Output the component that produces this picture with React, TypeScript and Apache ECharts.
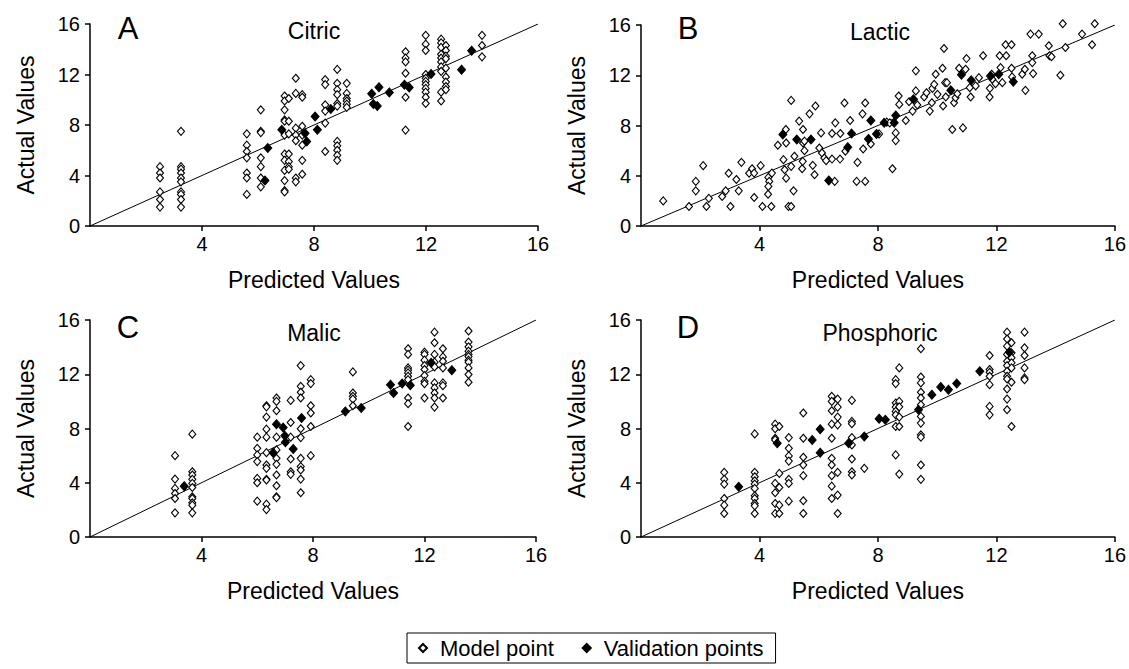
import React, { useEffect, useRef } from "react";
import * as echarts from "echarts";

// ---- Data ----
// Model points are grouped by predicted value (x) with the actual values (y) of each column.
const citricModel: [number, number[]][] = [
  [2.5, [4.7, 4.2, 3.8, 2.7, 2.1, 1.5]],
  [3.25, [7.5, 4.7, 4.5, 4.2, 3.8, 3.5, 2.7, 2.5, 2.1, 1.5]],
  [5.6, [7.3, 6.4, 5.9, 5.4, 4.2, 3.8, 2.5]],
  [6.1, [9.2, 7.5, 7.4, 5.4, 4.7, 3.8, 3.1]],
  [6.95, [10.3, 9.9, 9.2, 8.4, 8.3, 7.2, 5.7, 5.2, 4.4, 3.6, 2.8, 2.7]],
  [7.1, [10.1, 8.3, 7.3, 5.7, 5.1, 4.7, 4.5]],
  [7.35, [11.7, 10.5, 7.75, 7.2, 6.75, 3.8, 3.5]],
  [7.58, [10.4, 10.2, 7.9, 7.2, 6.4, 5.2, 4.1]],
  [8.4, [11.6, 11.2, 9.6, 9.1, 8.15, 5.9]],
  [8.83, [12.4, 11.3, 10.8, 10.4, 9.7, 9.5, 6.7, 6.35, 6.0, 5.6, 5.2]],
  [9.17, [11.3, 10.5, 10.1, 9.9, 9.65, 9.4]],
  [11.27, [13.8, 13.3, 13.0, 12.1, 10.2, 7.6]],
  [11.99, [15.1, 14.4, 13.9, 12.0, 11.7, 11.45, 11.2, 10.9, 10.6, 10.2, 9.7]],
  [12.54, [14.8, 14.5, 14.15, 13.6, 13.3, 13.0, 12.6, 12.25, 10.6, 9.9]],
  [12.71, [14.3, 13.9, 13.45, 13.25, 12.5, 11.8, 11.4, 11.05, 10.8]],
  [14.0, [15.1, 14.3, 13.4]],
];
const citricValid: [number, number][] = [
  [6.35, 6.17], [6.25, 3.6], [6.85, 7.62], [7.68, 7.35], [7.74, 6.69], [8.04, 8.67],
  [8.12, 7.62], [8.6, 9.26], [10.06, 10.48], [10.32, 11.0], [10.12, 9.66], [10.26, 9.5],
  [10.69, 10.58], [11.23, 11.19], [11.4, 10.98], [12.18, 12.04], [13.27, 12.38], [13.63, 13.89],
];

const lacticModel: [number, number][] = [
  [0.75, 2.0], [1.62, 1.55], [1.85, 2.8], [1.85, 3.55], [2.1, 4.8], [2.21, 1.55], [2.29, 2.2],
  [2.74, 2.35], [2.86, 2.8], [2.96, 4.2], [3.02, 1.55], [3.22, 3.7], [3.3, 2.8], [3.39, 5.07],
  [3.65, 4.2], [3.75, 4.56], [3.82, 2.27], [3.82, 4.21], [4.04, 4.8], [4.1, 1.55], [4.29, 2.53],
  [4.3, 3.87], [4.33, 3.55], [4.3, 3.15], [4.4, 1.55], [4.42, 4.21], [4.62, 6.43], [4.81, 5.28],
  [4.85, 4.48], [4.9, 6.61], [4.89, 7.68], [4.98, 1.55], [5.07, 1.55], [5.07, 10.0], [4.9, 3.81],
  [5.07, 4.75], [5.15, 2.8], [5.18, 5.55], [5.34, 8.35], [5.44, 4.56], [5.47, 7.68], [5.47, 6.61],
  [5.52, 6.75], [5.52, 6.0], [5.69, 8.93], [5.89, 9.55], [5.46, 5.15], [5.8, 4.83], [5.86, 4.08],
  [6.02, 6.21], [6.08, 7.41], [6.11, 5.81], [6.19, 5.41], [6.25, 5.2], [6.54, 3.55], [6.45, 5.33],
  [6.56, 8.21], [6.45, 7.36], [6.73, 7.36], [6.72, 5.33], [6.87, 9.79], [6.9, 5.95], [7.06, 8.4],
  [7.28, 3.55], [7.31, 5.07], [7.48, 8.93], [7.57, 9.79], [7.5, 6.13], [7.57, 3.55], [7.76, 6.53],
  [8.04, 7.33], [8.3, 8.27], [8.4, 8.21], [8.49, 4.56], [8.6, 7.41], [8.6, 6.8], [8.7, 10.35],
  [8.72, 9.68], [8.94, 8.4], [9.05, 9.89], [9.28, 12.35], [9.28, 10.75], [9.17, 9.15], [9.33, 9.63],
  [9.56, 10.27], [9.64, 10.61], [9.75, 9.15], [9.82, 9.81], [9.84, 10.96], [9.9, 11.28], [9.95, 12.08],
  [10.01, 10.48], [10.18, 12.56], [10.23, 14.13], [10.27, 11.41], [10.33, 11.41], [10.2, 9.55],
  [10.29, 10.27], [10.51, 7.68], [10.57, 9.81], [10.62, 10.21], [10.68, 10.53], [10.74, 12.56],
  [10.87, 7.81], [10.99, 13.33], [10.96, 12.48], [11.1, 11.01], [11.13, 10.27], [11.3, 11.15],
  [11.41, 11.81], [11.55, 13.55], [11.78, 10.96], [11.77, 10.27], [11.84, 12.08], [11.86, 11.68],
  [11.97, 11.33], [12.11, 13.55], [12.14, 12.61], [12.2, 11.41], [12.31, 14.43], [12.33, 13.55],
  [12.51, 14.43], [12.51, 12.56], [12.53, 11.87], [12.87, 12.08], [12.96, 12.48], [12.98, 10.8],
  [13.21, 13.55], [13.21, 13.01], [13.24, 12.13], [13.15, 15.28], [13.43, 15.28], [13.77, 14.35],
  [13.79, 13.55], [13.86, 13.47], [14.16, 12.0], [14.24, 16.1], [14.33, 14.21], [14.89, 15.28],
  [15.23, 14.43], [15.32, 16.1],
];
const lacticValid: [number, number][] = [
  [4.79, 7.28], [5.26, 6.88], [5.74, 6.88], [6.34, 3.63], [6.98, 6.27], [7.11, 7.36], [7.68, 6.93],
  [7.76, 8.4], [7.95, 7.33], [8.21, 8.21], [8.55, 8.21], [8.6, 8.8], [9.2, 10.08], [10.46, 10.8],
  [10.82, 12.03], [11.15, 11.6], [11.8, 11.95], [12.08, 12.08], [12.57, 11.49],
];

const malicModel: [number, number[]][] = [
  [3.05, [6.0, 4.27, 3.58, 3.21, 2.84, 1.78]],
  [3.67, [7.58, 4.81, 4.57, 4.25, 3.95, 3.65, 2.96, 2.84, 2.52, 2.35, 1.78]],
  [6.0, [7.36, 6.54, 6.05, 5.56, 4.32, 4.0, 2.64]],
  [6.33, [9.68, 9.6, 8.84, 7.95, 7.36, 6.22, 5.31, 5.06, 4.25, 4.2, 2.42, 2.02]],
  [6.69, [10.25, 10.0, 9.31, 7.36, 6.42, 5.8, 5.36, 4.57, 3.78, 2.96, 2.9]],
  [7.2, [10.07, 8.44, 7.36, 5.75, 4.81, 4.62]],
  [7.56, [12.64, 11.11, 10.67, 10.25, 7.98, 7.33, 5.8, 5.19, 4.94, 4.27, 3.26]],
  [7.92, [11.6, 11.31, 9.68, 9.14, 8.15, 6.0]],
  [9.43, [12.17, 10.62, 10.37, 10.17, 9.68]],
  [11.41, [13.88, 13.46, 12.47, 12.3, 12.1, 11.85, 11.6, 10.25, 9.83, 8.15]],
  [12.0, [13.63, 13.46, 13.04, 12.64, 12.35, 11.9, 11.48, 11.3, 10.25]],
  [12.36, [15.1, 14.32, 13.46, 12.89, 12.54, 11.36, 10.99, 10.62, 10.25, 9.58]],
  [12.66, [13.88, 13.28, 12.96, 12.47, 11.36, 11.16, 10.25]],
  [13.58, [15.19, 14.37, 14.02, 13.7, 13.46, 13.3, 13.04, 12.89, 12.47, 11.98, 11.41]],
];
const malicValid: [number, number][] = [
  [3.38, 3.75], [6.57, 6.22], [6.69, 8.32], [6.93, 8.07], [6.99, 7.46], [7.01, 6.99], [7.29, 6.49],
  [7.59, 8.77], [9.16, 9.26], [9.73, 9.51], [10.78, 11.23], [10.89, 10.62], [11.2, 11.31],
  [11.49, 11.19], [12.24, 12.84], [12.98, 12.3],
];

const phosModel: [number, number[]][] = [
  [2.81, [4.77, 4.25, 3.9, 2.84, 2.35, 1.73]],
  [3.84, [7.6, 4.77, 4.44, 4.15, 3.9, 3.58, 3.04, 2.84, 2.47, 2.3, 1.73]],
  [4.53, [8.32, 7.98, 7.28, 7.16, 3.95, 3.26, 2.47, 1.73]],
  [4.67, [8.15, 4.69, 3.65, 2.35, 1.73]],
  [4.99, [7.33, 6.54, 5.98, 5.6, 4.25, 3.95, 2.64]],
  [5.48, [9.14, 7.28, 5.88, 5.31, 4.52, 2.67, 1.73]],
  [6.44, [10.37, 10.0, 9.31, 8.32, 7.28, 5.8, 5.31, 4.52, 3.75, 2.84]],
  [6.64, [10.17, 9.58, 8.84, 8.27, 4.77, 3.09, 1.73]],
  [7.12, [10.07, 8.52, 8.35, 7.33, 6.79, 5.75, 4.81, 4.57]],
  [7.54, [5.06]],
  [8.6, [11.6, 11.31, 9.88, 9.58, 9.26, 9.01, 8.15, 6.05]],
  [8.72, [12.47, 10.0, 9.6, 8.84, 8.15, 4.64]],
  [9.45, [13.88, 11.8, 11.36, 10.67, 10.25, 9.75, 8.89, 8.4, 7.53, 7.36, 5.31, 4.25]],
  [11.77, [13.38, 12.35, 12.15, 11.85, 11.23, 9.63, 9.01]],
  [12.36, [15.1, 14.6, 14.07, 13.46, 12.96, 12.64, 12.22, 11.85, 11.65, 10.91, 10.17, 9.38]],
  [12.51, [14.32, 13.58, 13.21, 12.84, 12.47, 11.41, 8.15]],
  [12.95, [15.1, 13.95, 13.38, 12.47, 11.73, 11.6]],
];
const phosValid: [number, number][] = [
  [3.3, 3.7], [4.6, 6.91], [5.78, 7.16], [6.05, 7.95], [6.05, 6.22], [7.01, 6.91], [7.54, 7.41],
  [8.04, 8.72], [8.25, 8.64], [9.37, 9.38], [9.82, 10.49], [10.12, 11.06], [10.38, 10.86],
  [10.66, 11.31], [11.44, 12.22], [12.44, 13.63],
];

const identityLine: [number, number][] = [[0, 0], [16, 16]];
const axisMin = 0;
const axisMax = 16;
const axisStep = 4;
const legendNames = ["Model point", "Validation points"];
const xName = "Predicted Values";
const yName = "Actual Values";

const flatten = (cols: [number, number[]][]) =>
  cols.flatMap(([x, ys]) => ys.map((y) => [x, y] as [number, number]));

const panels = [
  { letter: "A", title: "Citric", model: flatten(citricModel), valid: citricValid,
    grid: { left: 90, top: 24, width: 448, height: 202 }, lx: 128, ly: 28, tx: 314, ty: 31 },
  { letter: "B", title: "Lactic", model: lacticModel, valid: lacticValid,
    grid: { left: 641, top: 25, width: 475, height: 201 }, lx: 688, ly: 28, tx: 880, ty: 32 },
  { letter: "C", title: "Malic", model: flatten(malicModel), valid: malicValid,
    grid: { left: 90, top: 320, width: 446, height: 217 }, lx: 128, ly: 327, tx: 314, ty: 333 },
  { letter: "D", title: "Phosphoric", model: flatten(phosModel), valid: phosValid,
    grid: { left: 641, top: 320, width: 475, height: 217 }, lx: 688, ly: 327, tx: 880, ty: 333 },
];

const FONT = '"Liberation Sans", Arial, Helvetica, sans-serif';

export default function App() {
  const ref = useRef<HTMLDivElement>(null);
  useEffect(() => {
    if (!ref.current) return;
    const chart = echarts.init(ref.current, undefined, { renderer: "svg" });
    const axisLine = { show: true, lineStyle: { color: "#000", width: 1.5 } };
    const axisTick = { show: true, inside: false, length: 5, lineStyle: { color: "#000", width: 1.5 } };
    const option: any = {
      animation: false,
      backgroundColor: "#fff",
      textStyle: { fontFamily: FONT },
      grid: panels.map((p) => ({ ...p.grid, containLabel: false })),
      xAxis: panels.map((_, i) => ({
        gridIndex: i, type: "value", min: axisMin, max: axisMax, interval: axisStep,
        axisLine, axisTick, splitLine: { show: false },
        axisLabel: { showMinLabel: false, color: "#000", fontSize: 20, fontFamily: FONT, margin: 8 },
        name: xName, nameLocation: "middle", nameGap: 42,
        nameTextStyle: { color: "#000", fontSize: 23, fontFamily: FONT },
      })),
      yAxis: panels.map((_, i) => ({
        gridIndex: i, type: "value", min: axisMin, max: axisMax, interval: axisStep,
        axisLine, axisTick, splitLine: { show: false },
        axisLabel: { color: "#000", fontSize: 20, fontFamily: FONT, margin: 10 },
        name: yName, nameLocation: "middle", nameGap: 53,
        nameTextStyle: { color: "#000", fontSize: 23, fontFamily: FONT },
      })),
      legend: {
        data: legendNames,
        left: 407, top: 633,
        orient: "horizontal",
        borderColor: "#000", borderWidth: 1,
        padding: [3, 12, 3, 11],
        itemWidth: 8, itemHeight: 8, itemGap: 28,
        selectedMode: false,
        textStyle: { color: "#000", fontSize: 22, fontFamily: FONT, padding: [0, 0, 0, 8], lineHeight: 24 },
      },
      series: panels.flatMap((p, i) => [
        {
          name: "identity", type: "line", xAxisIndex: i, yAxisIndex: i,
          data: identityLine, symbol: "none", z: 1, silent: true,
          lineStyle: { color: "#000", width: 1 },
        },
        {
          name: legendNames[0], type: "scatter", xAxisIndex: i, yAxisIndex: i,
          data: p.model, symbol: "diamond", symbolSize: [7, 8], clip: false, z: 2,
          itemStyle: { color: "#fff", borderColor: "#000", borderWidth: 1.1, opacity: 1 },
        },
        {
          name: legendNames[1], type: "scatter", xAxisIndex: i, yAxisIndex: i,
          data: p.valid, symbol: "diamond", symbolSize: [8, 9], clip: false, z: 3,
          itemStyle: { color: "#000", borderColor: "#000", borderWidth: 1, opacity: 1 },
        },
      ]),
      graphic: panels.flatMap((p) => [
        {
          type: "text", x: p.lx, y: p.ly,
          style: { text: p.letter, fill: "#000", font: `31px ${FONT}`, align: "center", verticalAlign: "middle" },
        },
        {
          type: "text", x: p.tx, y: p.ty,
          style: { text: p.title, fill: "#000", font: `23px ${FONT}`, align: "center", verticalAlign: "middle" },
        },
      ]),
    };
    chart.setOption(option);
    return () => chart.dispose();
  }, []);
  return (
    <div
      ref={ref}
      style={{ position: "absolute", left: 0, top: 0, width: 1129, height: 669, background: "#fff" }}
    />
  );
}
